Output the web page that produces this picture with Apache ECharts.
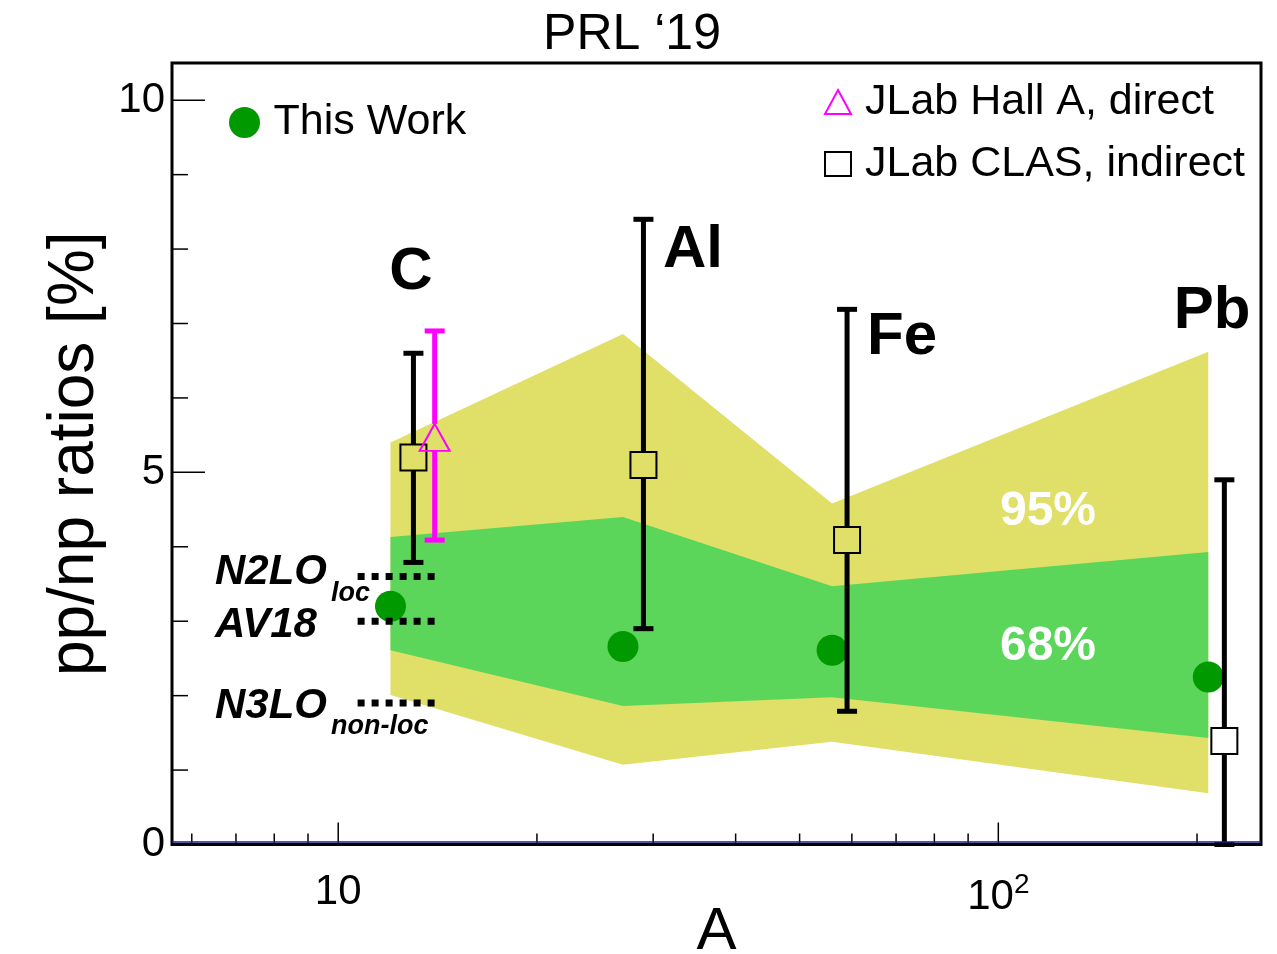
<!DOCTYPE html>
<html>
<head>
<meta charset="utf-8">
<script src="https://cdn.jsdelivr.net/npm/echarts@6/dist/echarts.min.js"></script>
<style>
  html, body { margin: 0; padding: 0; background: #fff; }
  #chart { width: 1277px; height: 954px; }
</style>
</head>
<body>
<div id="chart"></div>
<script>
// Nuclei and mass numbers
const nuclei = ['C', 'Al', 'Fe', 'Pb'];
const massA = [12, 27, 56, 208];

// This work: pp/np ratio [%]
const thisWork = [3.20, 2.66, 2.61, 2.25];

// Confidence bands [%]
const band95Lo = [2.01, 1.07, 1.38, 0.69];
const band95Hi = [5.40, 6.86, 4.58, 6.62];
const band68Lo = [2.61, 1.86, 1.98, 1.43];
const band68Hi = [4.13, 4.40, 3.47, 3.93];

// JLab CLAS, indirect (drawn at slightly shifted A)
const clasA = [13, 29, 59, 220];
const clasVal = [5.20, 5.10, 4.09, 1.39];
const clasLo = [3.79, 2.90, 1.79, 0.00];
const clasHi = [6.60, 8.40, 7.19, 4.90];

// JLab Hall A, direct
const hallA_A = [14];
const hallAVal = [5.47];
const hallALo = [4.09];
const hallAHi = [6.90];

// Theory predictions [%]
const theoryNames = ['N2LO', 'AV18', 'N3LO'];
const theoryVal = [3.60, 3.00, 1.90];
const theoryFrom = 10.7;
const theoryTo = 14;

// Tick marks
const xMajorTicks = [10, 100];
const xMinorTicks = [6, 7, 8, 9, 20, 30, 40, 50, 60, 70, 80, 90, 200];
const yMajorTicks = [0, 5, 10];
const yMinorTicks = [1, 2, 3, 4, 6, 7, 8, 9];

const X_MIN = 5.6, X_MAX = 250, Y_MIN = 0, Y_MAX = 10.5;
const FONT = '"Liberation Sans", Arial, Helvetica, sans-serif';

const YELLOW = '#e0df68';
const GREEN_BAND = '#5bd65b';
const GREEN_PT = '#009a00';
const MAGENTA = '#ff00ff';

const chart = echarts.init(document.getElementById('chart'));

function bandSeries(name, lo, hi, color, z) {
  return {
    type: 'custom', name: name, z: z, silent: true,
    data: massA.map((a, i) => [a, lo[i], hi[i]]),
    encode: { x: 0, y: [1, 2] },
    renderItem(params, api) {
      if (params.dataIndex !== 0) return null; // band drawn once as one polygon
      const upper = massA.map((a, i) => api.coord([a, hi[i]]));
      const lower = massA.map((a, i) => api.coord([a, lo[i]])).reverse();
      return { type: 'polygon', shape: { points: upper.concat(lower) }, style: { fill: color } };
    }
  };
}

function errorBarSeries(name, xs, vals, los, his, color, halfUp, halfDown, z) {
  return {
    type: 'custom', name: name, z: z, silent: true,
    data: xs.map((x, i) => [x, vals[i], los[i], his[i]]),
    encode: { x: 0, y: [1, 2, 3] },
    renderItem(params, api) {
      const x = api.value(0);
      const c = api.coord([x, api.value(1)]);
      const lo = api.coord([x, api.value(2)]);
      const hi = api.coord([x, api.value(3)]);
      const st = { stroke: color, lineWidth: 5 };
      return {
        type: 'group',
        children: [
          { type: 'line', shape: { x1: c[0], y1: c[1] - halfUp, x2: c[0], y2: hi[1] }, style: st },
          { type: 'line', shape: { x1: c[0], y1: c[1] + halfDown, x2: c[0], y2: lo[1] }, style: st },
          { type: 'line', shape: { x1: c[0] - 10, y1: hi[1], x2: c[0] + 10, y2: hi[1] }, style: st },
          { type: 'line', shape: { x1: c[0] - 10, y1: lo[1], x2: c[0] + 10, y2: lo[1] }, style: st }
        ]
      };
    }
  };
}

const xTicks = xMajorTicks.concat(xMinorTicks);
const yTicks = yMajorTicks.concat(yMinorTicks);

const series = [
  bandSeries('95% band', band95Lo, band95Hi, YELLOW, 1),
  bandSeries('68% band', band68Lo, band68Hi, GREEN_BAND, 2),
  {
    type: 'scatter', name: 'This Work', z: 3,
    symbol: 'circle', symbolSize: 31,
    itemStyle: { color: GREEN_PT, opacity: 1 },
    data: massA.map((a, i) => [a, thisWork[i]])
  },
  errorBarSeries('CLAS errors', clasA, clasVal, clasLo, clasHi, '#000', 13, 13, 4),
  {
    type: 'scatter', name: 'JLab CLAS, indirect', z: 5,
    symbol: 'rect', symbolSize: 26,
    itemStyle: { color: 'rgba(0,0,0,0)', borderColor: '#000', borderWidth: 2, opacity: 1 },
    data: clasA.map((a, i) => [a, clasVal[i]])
  },
  errorBarSeries('Hall A errors', hallA_A, hallAVal, hallALo, hallAHi, MAGENTA, 13.5, 13.5, 4),
  {
    type: 'scatter', name: 'JLab Hall A, direct', z: 5,
    symbol: 'triangle', symbolSize: [30, 27],
    itemStyle: { color: 'rgba(0,0,0,0)', borderColor: MAGENTA, borderWidth: 2, opacity: 1 },
    data: hallA_A.map((a, i) => [a, hallAVal[i]])
  }
];

// theory predictions as dotted lines
theoryNames.forEach((n, i) => {
  series.push({
    type: 'line', name: n, z: 6, silent: true, symbol: 'none',
    lineStyle: { color: '#000', width: 7, type: [7, 7], cap: 'butt' },
    data: [[theoryFrom, theoryVal[i]], [theoryTo, theoryVal[i]]]
  });
});

// axis ticks drawn inside the frame
series.push({
  type: 'custom', name: 'x ticks', z: 10, silent: true,
  data: xTicks.map(v => [v, Y_MIN]),
  encode: { x: 0, y: 1 },
  renderItem(params, api) {
    const v = api.value(0);
    const p = api.coord([v, Y_MIN]);
    const len = xMajorTicks.indexOf(v) >= 0 ? 22 : 11;
    return { type: 'line', shape: { x1: p[0], y1: p[1], x2: p[0], y2: p[1] - len }, style: { stroke: '#000', lineWidth: 1.5 } };
  }
});
series.push({
  type: 'custom', name: 'y ticks', z: 10, silent: true,
  data: yTicks.map(v => [X_MIN, v]),
  encode: { x: 0, y: 1 },
  renderItem(params, api) {
    const v = api.value(1);
    const p = api.coord([X_MIN, v]);
    const len = yMajorTicks.indexOf(v) >= 0 ? 33 : 16;
    return { type: 'line', shape: { x1: p[0], y1: p[1], x2: p[0] + len, y2: p[1] }, style: { stroke: '#000', lineWidth: 1.5 } };
  }
});
// zero line along the bottom axis
series.push({
  type: 'custom', name: 'zero line', z: 11, silent: true,
  data: [[X_MIN, 0]],
  encode: { x: 0, y: 1 },
  renderItem(params, api) {
    const p0 = api.coord([X_MIN, 0]);
    const p1 = api.coord([X_MAX, 0]);
    return { type: 'line', shape: { x1: p0[0], y1: p0[1] - 2.5, x2: p1[0], y2: p1[1] - 2.5 }, style: { stroke: '#1a1a8c', lineWidth: 1.5 } };
  }
});

function txt(text, x, y, size, opts) {
  opts = opts || {};
  return {
    type: 'text', x: x, y: y, z: 100, silent: true,
    style: {
      text: text, fill: opts.fill || '#000',
      fontSize: size, fontFamily: FONT,
      fontWeight: opts.weight || 'normal', fontStyle: opts.style || 'normal',
      align: opts.align || 'center', verticalAlign: 'middle'
    }
  };
}

const option = {
  backgroundColor: '#fff',
  animation: false,
  grid: {
    left: 172, top: 63, width: 1089, height: 781.5,
    outerBoundsMode: 'none', containLabel: false,
    show: true, borderColor: '#000', borderWidth: 3, backgroundColor: 'transparent'
  },
  xAxis: {
    type: 'log', logBase: 10, min: X_MIN, max: X_MAX,
    name: 'A', nameLocation: 'middle', nameGap: 58, nameMoveOverlap: false,
    nameTextStyle: { fontSize: 60, color: '#000', fontFamily: FONT },
    axisLine: { show: false }, axisTick: { show: false }, splitLine: { show: false },
    axisLabel: {
      margin: 27, color: '#000', fontFamily: FONT, fontSize: 42,
      formatter(v) {
        const e = Math.log10(v);
        if (Math.abs(e - Math.round(e)) > 1e-6) return '';
        const k = Math.round(e);
        if (k === 1) return '{b|10}';
        if (k > 1) return '{b|10}{s|' + k + '}';
        return '';
      },
      rich: {
        b: { fontSize: 42, fontFamily: FONT, color: '#000' },
        s: { fontSize: 28, fontFamily: FONT, color: '#000', padding: [0, 0, 24, 0] }
      }
    }
  },
  yAxis: {
    type: 'value', min: Y_MIN, max: Y_MAX, interval: 5,
    name: 'pp/np ratios [%]', nameLocation: 'middle', nameGap: 52,
    nameTextStyle: { fontSize: 64, color: '#000', fontFamily: FONT },
    axisLine: { show: false }, axisTick: { show: false }, splitLine: { show: false },
    axisLabel: {
      margin: 7, color: '#000', fontFamily: FONT, fontSize: 42,
      formatter(v) { return (yMajorTicks.indexOf(v) >= 0) ? String(v) : ''; }
    }
  },
  legend: [
    {
      data: [{ name: 'This Work', icon: 'circle' }],
      left: 224, top: 96, itemWidth: 48, itemHeight: 31,
      selectedMode: false,
      textStyle: { fontSize: 43, color: '#000', fontFamily: FONT }
    },
    {
      data: [{ name: 'JLab Hall A, direct', icon: 'triangle' }, { name: 'JLab CLAS, indirect', icon: 'rect' }],
      orient: 'vertical', left: 819, top: 74, itemWidth: 26, itemHeight: 24, itemGap: 16,
      selectedMode: false,
      textStyle: { fontSize: 43, lineHeight: 46, color: '#000', fontFamily: FONT, padding: [0, 0, 0, 9] }
    }
  ],
  graphic: [
    txt('PRL \u201819', 632, 35, 50),
    txt('C', 411, 272, 60, { weight: 'bold' }),
    txt('Al', 693, 250, 60, { weight: 'bold' }),
    txt('Fe', 902, 337, 60, { weight: 'bold' }),
    txt('Pb', 1212, 311, 60, { weight: 'bold' }),
    txt('95%', 1048, 512, 48, { weight: 'bold', fill: '#fff' }),
    txt('68%', 1048, 647, 48, { weight: 'bold', fill: '#fff' }),
    txt('N2LO', 215, 572, 42, { weight: 'bold', style: 'italic', align: 'left' }),
    txt('loc', 331, 594, 27, { weight: 'bold', style: 'italic', align: 'left' }),
    txt('AV18', 215, 625, 42, { weight: 'bold', style: 'italic', align: 'left' }),
    txt('N3LO', 215, 706, 42, { weight: 'bold', style: 'italic', align: 'left' }),
    txt('non-loc', 331, 727, 27, { weight: 'bold', style: 'italic', align: 'left' })
  ],
  series: series
};

chart.setOption(option);
</script>
</body>
</html>
